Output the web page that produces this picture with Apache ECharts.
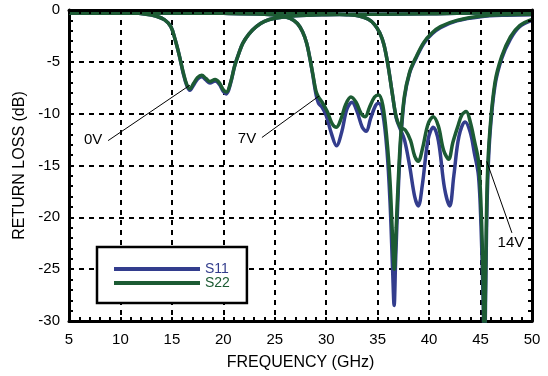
<!DOCTYPE html>
<html>
<head>
<meta charset="utf-8">
<script src="https://cdn.jsdelivr.net/npm/echarts@6/dist/echarts.min.js"></script>
<style>
  html, body { margin: 0; padding: 0; background: #fff; }
  #chart { width: 548px; height: 376px; }
</style>
</head>
<body>
<div id="chart"></div>
<script>
// [frequency GHz, return loss dB]
const s22_0V = [
  [5, -0.25], [8, -0.28], [11, -0.3], [12.5, -0.4], [13.5, -0.6], [14.3, -0.95], [14.9, -1.6],
  [15.3, -2.8], [15.7, -4.3], [16.1, -6.0], [16.45, -7.2], [16.75, -7.6], [17.1, -7.1], [17.5, -6.5],
  [17.9, -6.3], [18.3, -6.6], [18.7, -6.9], [19.2, -6.7], [19.6, -7.0], [20.0, -7.7], [20.3, -7.9],
  [20.7, -7.0], [21.1, -5.4], [21.5, -4.2], [21.9, -3.2], [22.5, -2.3], [23.2, -1.6], [24, -1.1],
  [25, -0.8], [27, -0.55], [30, -0.45], [35, -0.4], [40, -0.35], [45, -0.3], [50, -0.3]
];
const s11_0V = [
  [5, -0.25], [8, -0.28], [11, -0.3], [12.5, -0.4], [13.5, -0.6], [14.3, -0.95], [14.9, -1.6],
  [15.3, -2.8], [15.7, -4.3], [16.1, -6.1], [16.45, -7.3], [16.75, -7.75], [17.1, -7.25], [17.5, -6.65],
  [17.9, -6.45], [18.3, -6.75], [18.7, -7.05], [19.2, -6.85], [19.6, -7.15], [20.0, -7.85], [20.3, -8.1],
  [20.7, -7.1], [21.1, -5.4], [21.5, -4.2], [21.9, -3.2], [22.5, -2.3], [23.2, -1.6], [24, -1.1],
  [25, -0.8], [27, -0.55], [30, -0.45], [35, -0.4], [40, -0.35], [45, -0.3], [50, -0.3]
];
const s22_7V = [
  [5, -0.3], [10, -0.3], [15, -0.3], [20, -0.32], [24, -0.4], [25.5, -0.55], [26.5, -0.8],
  [27.2, -1.3], [27.7, -2.1], [28.1, -3.2], [28.4, -4.6], [28.7, -6.2], [29.0, -7.8], [29.25, -8.4],
  [29.6, -8.9], [30.1, -9.8], [30.6, -11.0], [31.0, -11.3], [31.4, -10.6], [31.9, -9.1], [32.4, -8.4],
  [32.9, -8.9], [33.4, -10.0], [33.8, -10.3], [34.2, -9.4], [34.7, -8.4], [35.1, -8.2], [35.5, -9.2],
  [35.9, -12.5], [36.2, -16.5], [36.45, -22], [36.62, -25], [36.8, -21], [37.0, -16.5], [37.25, -12],
  [37.6, -8.3], [38.1, -6.0], [38.7, -4.6], [39.5, -3.1], [40.3, -2.2], [41.1, -1.6], [42.7, -1.0],
  [45, -0.6], [47.5, -0.45], [50, -0.4]
];
const s11_7V = [
  [5, -0.3], [10, -0.3], [15, -0.3], [20, -0.32], [24, -0.4], [25.5, -0.55], [26.5, -0.8],
  [27.2, -1.3], [27.7, -2.1], [28.1, -3.2], [28.4, -4.6], [28.7, -6.3], [29.0, -8.1], [29.25, -9.0],
  [29.6, -9.4], [30.0, -10.2], [30.5, -11.9], [31.0, -13.1], [31.5, -11.8], [32.0, -9.6], [32.5, -8.9],
  [33.0, -9.8], [33.5, -11.3], [33.9, -11.7], [34.3, -10.5], [34.8, -9.2], [35.1, -9.0], [35.5, -10.0],
  [35.9, -13.5], [36.2, -18.5], [36.45, -25], [36.6, -28.5], [36.75, -24], [37.0, -17.5], [37.25, -12.5],
  [37.6, -8.5], [38.1, -6.1], [38.7, -4.7], [39.5, -3.2], [40.3, -2.3], [41.1, -1.7], [42.7, -1.05],
  [45, -0.65], [47.5, -0.5], [50, -0.45]
];
const s22_14V = [
  [5, -0.3], [15, -0.3], [25, -0.3], [30, -0.35], [32, -0.45], [33.3, -0.6], [34.1, -0.9],
  [34.7, -1.4], [35.2, -2.2], [35.6, -3.3], [36.0, -5.3], [36.4, -7.9], [36.8, -10.3], [37.2, -11.3],
  [37.7, -11.6], [38.2, -12.6], [38.6, -14.1], [38.95, -14.6], [39.35, -13.4], [39.9, -11.0],
  [40.4, -10.3], [40.9, -11.2], [41.4, -13.5], [41.9, -14.4], [42.3, -12.8], [42.8, -11.2],
  [43.2, -10.1], [43.6, -9.8], [44.0, -10.8], [44.4, -12.6], [44.8, -14.6], [45.05, -19],
  [45.25, -26], [45.38, -33], [45.5, -25], [45.65, -16.5], [45.9, -11.7], [46.4, -7.0], [47.05, -4.5],
  [47.9, -2.6], [48.8, -1.5], [50, -0.9]
];
const s11_14V = [
  [5, -0.3], [15, -0.3], [25, -0.3], [30, -0.35], [32, -0.45], [33.3, -0.6], [34.1, -0.9],
  [34.7, -1.4], [35.2, -2.2], [35.6, -3.3], [36.0, -5.3], [36.4, -7.9], [36.8, -10.4], [37.2, -11.5],
  [37.6, -12.5], [38.1, -15.0], [38.6, -18.0], [38.95, -18.9], [39.35, -16.8], [39.9, -12.5],
  [40.4, -11.3], [40.9, -12.6], [41.5, -17.2], [42.0, -18.9], [42.4, -16.0], [42.9, -12.2],
  [43.5, -10.8], [44.0, -11.8], [44.4, -13.8], [44.8, -16.0], [45.05, -21], [45.25, -28],
  [45.38, -34], [45.5, -27], [45.65, -18], [45.9, -12.2], [46.4, -7.3], [47.05, -4.7],
  [47.9, -2.8], [48.8, -1.6], [50, -1.0]
];

const voltLabels = ['0V', '7V', '14V'];
const labelPos = [[7.35, -12.55], [22.3, -12.4], [47.95, -22.5]];
const leaderLines = [
  [[8.8, -12.6], [16.75, -7.25]],
  [[23.75, -12.3], [29.3, -8.3]],
  [[45.6, -14.6], [48.05, -21.5]]
];

const xTicks = { min: 5, max: 50, interval: 5 };
const yTicks = { min: -30, max: 0, interval: 5 };

const BLUE = '#333d8d';
const GREEN = '#1c5b33';
const FONT = 'Liberation Sans, Arial, sans-serif';

const chart = echarts.init(document.getElementById('chart'), null, { renderer: 'canvas' });

const axisCommon = {
  type: 'value',
  axisLine: { show: true, onZero: false, lineStyle: { color: '#000', width: 3 } },
  axisTick: { show: true, inside: true, length: 4, lineStyle: { color: '#000', width: 2 } },
  minorTick: { show: true, splitNumber: 5, length: 4, lineStyle: { color: '#000', width: 2 } },
};

const makeSeries = (name, data, color, idx) => {
  const s = {
    name: name,
    type: 'line',
    data: data,
    smooth: 0.35,
    showSymbol: false,
    symbol: 'none',
    clip: true,
    lineStyle: { color: color, width: 3.5 },
    itemStyle: { color: color },
    silent: true,
  };
  if (idx !== undefined) {
    s.markLine = {
      silent: true,
      symbol: 'none',
      label: { show: false },
      lineStyle: { color: '#000', width: 1, type: 'solid' },
      data: [[{ coord: leaderLines[idx][0] }, { coord: leaderLines[idx][1] }]],
    };
    s.markPoint = {
      silent: true,
      symbolSize: 0,
      label: {
        show: true,
        position: 'inside',
        formatter: voltLabels[idx],
        color: '#000',
        fontSize: 15,
        fontFamily: FONT,
      },
      data: [{ coord: labelPos[idx] }],
    };
  }
  return s;
};

const option = {
  animation: false,
  backgroundColor: '#fff',
  textStyle: { fontFamily: FONT },
  grid: { left: 69, right: 16, top: 10, bottom: 50 },
  legend: {
    left: 97,
    top: 247,
    orient: 'vertical',
    icon: 'rect',
    itemWidth: 86,
    itemHeight: 4,
    itemGap: 0,
    padding: [15, 17, 13, 17],
    borderColor: '#000',
    borderWidth: 2.5,
    borderRadius: 0,
    backgroundColor: '#fff',
    textStyle: { fontSize: 14, lineHeight: 14, fontFamily: FONT, padding: [0, 0, 0, 0] },
    data: [
      { name: 'S11', textStyle: { color: BLUE } },
      { name: 'S22', textStyle: { color: GREEN } },
    ],
    selectedMode: false,
  },
  xAxis: [
    Object.assign({}, axisCommon, xTicks, {
      position: 'bottom',
      name: 'FREQUENCY (GHz)',
      nameLocation: 'middle',
      nameGap: 34,
      nameTextStyle: { fontSize: 16, color: '#000', fontFamily: FONT },
      axisLabel: { fontSize: 15, color: '#000', margin: 11, fontFamily: FONT },
      splitLine: { show: true, lineStyle: { color: '#000', width: 2, type: [5, 5] } },
    }),
    Object.assign({}, axisCommon, xTicks, {
      position: 'top',
      z: 10,
      axisLabel: { show: false },
      splitLine: { show: false },
    }),
  ],
  yAxis: [
    Object.assign({}, axisCommon, yTicks, {
      position: 'left',
      name: 'RETURN LOSS (dB)',
      nameLocation: 'middle',
      nameGap: 38,
      nameTextStyle: { fontSize: 16, color: '#000', fontFamily: FONT },
      axisLabel: { fontSize: 15, color: '#000', margin: 9, fontFamily: FONT },
      splitLine: { show: true, lineStyle: { color: '#000', width: 2, type: [5, 5] } },
    }),
    Object.assign({}, axisCommon, yTicks, {
      position: 'right',
      z: 10,
      axisLabel: { show: false },
      splitLine: { show: false },
    }),
  ],
  series: [
    makeSeries('S11', s11_0V, BLUE),
    makeSeries('S11', s11_7V, BLUE),
    makeSeries('S11', s11_14V, BLUE),
    makeSeries('S22', s22_0V, GREEN, 0),
    makeSeries('S22', s22_7V, GREEN, 1),
    makeSeries('S22', s22_14V, GREEN, 2),
  ],
};

chart.setOption(option);
</script>
</body>
</html>
